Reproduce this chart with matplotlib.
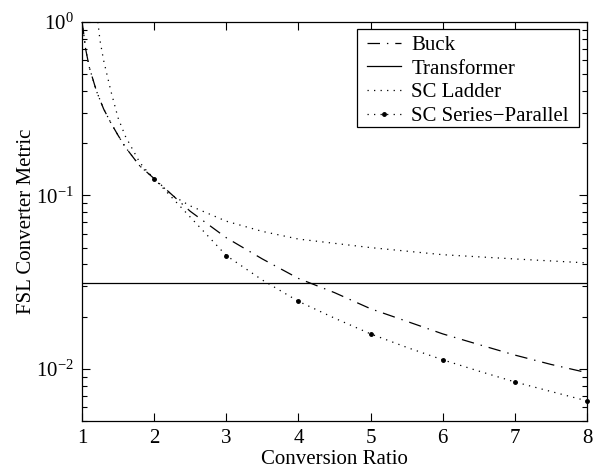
import numpy as np
import matplotlib
matplotlib.use("Agg")
import matplotlib.pyplot as plt
import matplotlib.ticker as mticker
from matplotlib.patches import Rectangle

# ── Data ──────────────────────────────────────────────────────────────────────
buck_x = [1.0, 1.02, 1.05, 1.1, 1.2, 1.3, 1.4, 1.5, 1.6, 1.8, 2.0,
          2.5, 3.0, 3.5, 4.0, 4.5, 5.0, 5.5, 6.0, 6.5, 7.0, 7.5, 8.0]
buck_y = [1.0, 0.88, 0.70, 0.55, 0.40, 0.315, 0.262, 0.222, 0.19, 0.148, 0.125,
          0.081, 0.057, 0.043, 0.0332, 0.0275, 0.0222, 0.0188, 0.0159, 0.0138,
          0.0120, 0.0106, 0.0095]

transformer_x = [1.0, 8.0]
transformer_y = [0.03125, 0.03125]

ladder_x = [1.22, 1.25, 1.3, 1.4, 1.5, 1.6, 1.8, 1.9, 2.0, 2.25, 2.5, 3.0,
            3.5, 4.0, 5.0, 6.0, 7.0, 8.0]
ladder_y = [1.0, 0.78, 0.60, 0.40, 0.28, 0.22, 0.155, 0.138, 0.125, 0.10,
            0.087, 0.071, 0.062, 0.056, 0.050, 0.0455, 0.0430, 0.0408]

sp_x = [1.0, 1.02, 1.05, 1.1, 1.2, 1.3, 1.4, 1.5, 1.6, 1.8, 2.0,
        2.5, 3.0, 3.5, 4.0, 4.5, 5.0, 5.5, 6.0, 6.5, 7.0, 7.5, 8.0]
sp_y = [1.0, 0.88, 0.70, 0.55, 0.40, 0.315, 0.262, 0.222, 0.19, 0.148, 0.125,
        0.075, 0.0450, 0.0325, 0.0245, 0.0196, 0.0159, 0.0133, 0.01127, 0.0097,
        0.0084, 0.0074, 0.00653]
sp_marker_x = [2, 3, 4, 5, 6, 7, 8]

# ── Style ─────────────────────────────────────────────────────────────────────
plt.rcParams["font.family"] = ["Liberation Serif", "DejaVu Serif"]
plt.rcParams["mathtext.fontset"] = "custom"
plt.rcParams["mathtext.rm"] = "Liberation Serif"
plt.rcParams["mathtext.it"] = "Liberation Serif:italic"
plt.rcParams["lines.scale_dashes"] = False

DOT = (0, (0.9, 3.8))
DASHDOT = (0, (9, 5, 1, 5))

fig = plt.figure(figsize=(6.01, 4.70), dpi=100)
ax = fig.add_axes([82 / 601, 1 - 421 / 470, (587 - 82) / 601, (421 - 22) / 470])

ax.plot(buck_x, buck_y, color="black", lw=0.9, linestyle=DASHDOT, label="Buck")
ax.plot(transformer_x, transformer_y, color="black", lw=0.9, linestyle="-",
        label="Transformer")
ax.plot(ladder_x, ladder_y, color="black", lw=0.9, linestyle=DOT, label="SC Ladder")

mark_idx = [sp_x.index(float(m)) for m in sp_marker_x]
ax.plot(sp_x, sp_y, color="black", lw=0.9, linestyle=DOT, marker=".",
        markersize=5, markevery=mark_idx, clip_on=False,
        label="SC Series\u2212Parallel")

ax.set_yscale("log")
ax.set_xlim(1, 8)
ax.set_ylim(5e-3, 1)
ax.set_xticks(range(1, 9))
ax.yaxis.set_major_locator(mticker.LogLocator(base=10, numticks=10))
ax.yaxis.set_minor_locator(mticker.LogLocator(base=10, subs=np.arange(2, 10), numticks=20))
ax.yaxis.set_minor_formatter(mticker.NullFormatter())

ax.tick_params(which="both", direction="in", top=True, right=True,
               labelsize=15, width=0.8)
ax.tick_params(which="major", length=6, pad=6)
ax.tick_params(which="minor", length=3.5)
for s in ax.spines.values():
    s.set_linewidth(0.9)

ax.set_xlabel("Conversion Ratio", fontsize=15, labelpad=1)
ax.set_ylabel("FSL Converter Metric", fontsize=15, labelpad=0)

# legend: MATLAB-style box, wider side padding than top/bottom
leg = ax.legend(loc="upper right", fontsize=15, frameon=False,
                handlelength=1.6, handletextpad=0.5, labelspacing=0.2,
                borderpad=0.16, borderaxespad=0.0, numpoints=1,
                bbox_to_anchor=((579 - 7 - 82) / 505, 1 - 10 / 399))
leg.set_zorder(5)

fig.canvas.draw()
bb = leg.get_window_extent().transformed(fig.transFigure.inverted())
padx = 7 / 601
shift = 3 / 470
frame = Rectangle((bb.x0 - padx, bb.y0 + shift), bb.width + 2 * padx, bb.height,
                  transform=fig.transFigure, facecolor="white",
                  edgecolor="black", linewidth=0.9, zorder=4.9)
ax.add_patch(frame)

fig.savefig("out.png", dpi=100)
